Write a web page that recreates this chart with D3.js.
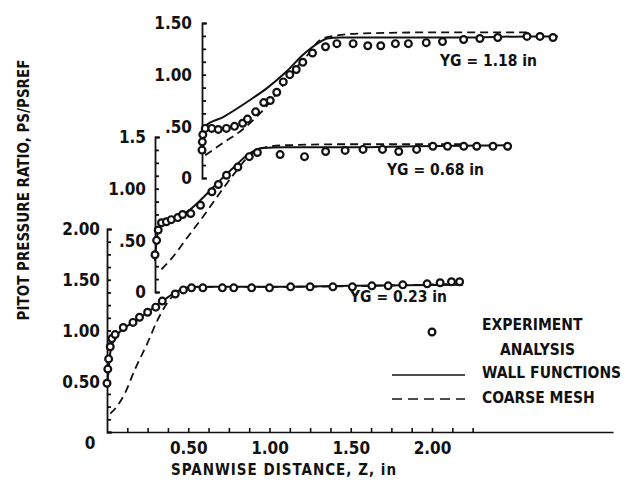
<!DOCTYPE html>
<html>
<head>
<meta charset="utf-8">
<script src="https://cdn.jsdelivr.net/npm/d3@7/dist/d3.min.js"></script>
<style>
  body { margin: 0; background: #fff; }
  text { font-family: "DejaVu Sans Condensed", "DejaVu Sans", sans-serif; font-weight: bold; fill: #111; }
</style>
</head>
<body>
<svg id="chart" width="626" height="482"></svg>
<script>
// ---- data (z in inches, PS/PSREF) ----

// YG = 1.18 in
let expZ118 = [0, 0.002, 0.005, 0.02, 0.06, 0.1, 0.15, 0.2, 0.25, 0.28, 0.33, 0.38, 0.42, 0.46, 0.5, 0.54, 0.58, 0.62, 0.68, 0.76, 0.83, 0.93, 1.02, 1.1, 1.19, 1.27, 1.38, 1.48, 1.61, 1.71, 1.82, 2.0, 2.08, 2.16];
let expV118 = [0.27, 0.35, 0.42, 0.48, 0.48, 0.47, 0.48, 0.5, 0.53, 0.57, 0.64, 0.73, 0.75, 0.83, 0.93, 1.0, 1.05, 1.12, 1.21, 1.27, 1.3, 1.3, 1.28, 1.28, 1.3, 1.3, 1.31, 1.32, 1.34, 1.35, 1.36, 1.37, 1.37, 1.36];
let wallZ118 = [0, 0.02, 0.13, 0.3, 0.4, 0.52, 0.62, 0.73, 0.77, 0.85, 1.2, 1.6, 2.0, 2.19];
let wallV118 = [0.42, 0.5, 0.59, 0.76, 0.87, 1.03, 1.19, 1.32, 1.35, 1.36, 1.36, 1.36, 1.37, 1.37];
let coarseZ118 = [0.02, 0.13, 0.25, 0.36, 0.46, 0.56, 0.65, 0.73, 0.83, 1.0, 1.5, 2.0];
let coarseV118 = [0.22, 0.34, 0.47, 0.63, 0.82, 1.03, 1.19, 1.34, 1.38, 1.4, 1.41, 1.41];

// YG = 0.68 in
let expZ068 = [0, 0.01, 0.02, 0.04, 0.07, 0.1, 0.14, 0.17, 0.22, 0.28, 0.35, 0.39, 0.44, 0.51, 0.58, 0.63, 0.77, 0.92, 1.05, 1.17, 1.28, 1.4, 1.5, 1.61, 1.71, 1.8, 1.9, 1.98, 2.08, 2.17];
let expV068 = [0.36, 0.5, 0.6, 0.67, 0.68, 0.7, 0.72, 0.75, 0.76, 0.84, 0.97, 1.04, 1.13, 1.21, 1.31, 1.35, 1.33, 1.31, 1.36, 1.37, 1.38, 1.38, 1.36, 1.38, 1.41, 1.41, 1.41, 1.41, 1.41, 1.41];
let wallZ068 = [0, 0.01, 0.03, 0.06, 0.12, 0.2, 0.3, 0.4, 0.5, 0.58, 0.65, 0.8, 1.2, 1.6, 2.19];
let wallV068 = [0.3, 0.5, 0.64, 0.68, 0.72, 0.78, 0.92, 1.08, 1.23, 1.34, 1.39, 1.4, 1.4, 1.41, 1.42];
let coarseZ068 = [0.04, 0.1, 0.2, 0.31, 0.4, 0.5, 0.58, 0.65, 0.8, 1.2, 1.6, 1.9];
let coarseV068 = [0.22, 0.32, 0.53, 0.76, 0.96, 1.17, 1.32, 1.39, 1.42, 1.43, 1.43, 1.43];

// YG = 0.23 in
let expZ023 = [0, 0.005, 0.01, 0.02, 0.03, 0.05, 0.1, 0.16, 0.2, 0.25, 0.3, 0.34, 0.42, 0.47, 0.52, 0.59, 0.71, 0.78, 0.89, 1.0, 1.13, 1.25, 1.39, 1.51, 1.63, 1.73, 1.82, 1.97, 2.05, 2.12, 2.17];
let expV023 = [0.48, 0.62, 0.72, 0.84, 0.92, 0.96, 1.03, 1.08, 1.13, 1.18, 1.23, 1.29, 1.36, 1.4, 1.42, 1.42, 1.42, 1.42, 1.42, 1.42, 1.43, 1.43, 1.43, 1.43, 1.44, 1.44, 1.45, 1.46, 1.47, 1.48, 1.48];
let wallZ023 = [0, 0.01, 0.02, 0.04, 0.08, 0.15, 0.25, 0.35, 0.45, 0.52, 0.6, 1.0, 1.5, 2.19];
let wallV023 = [0.45, 0.62, 0.78, 0.9, 0.99, 1.07, 1.18, 1.3, 1.4, 1.43, 1.43, 1.43, 1.44, 1.45];
let coarseZ023 = [0.02, 0.06, 0.11, 0.17, 0.25, 0.31, 0.4, 0.47, 0.55, 1.0, 2.19];
let coarseV023 = [0.18, 0.25, 0.38, 0.61, 0.88, 1.1, 1.33, 1.41, 1.43, 1.43, 1.46];

// tick labels
let yTicks118 = [0, 0.5, 1.0, 1.5], yLabels118 = ["0", ".50", "1.00", "1.50"];
let yTicks068 = [0, 0.5, 1.0, 1.5], yLabels068 = ["0", ".50", "1.00", "1.5"];
let yTicks023 = [0.5, 1.0, 1.5, 2.0], yLabels023 = ["0.50", "1.00", "1.50", "2.00"];
let xTicks = [0.5, 1.0, 1.5, 2.0], xLabels = ["0.50", "1.00", "1.50", "2.00"];

// ---- layout ----
let svg = d3.select("#chart");
let pxPerIn = 162.5;

let panels = [
  { name: "YG = 1.18 in", x0: 202, yBase: 178, yTop: 23, vMax: 1.5, ticks: yTicks118, labels: yLabels118,
    ez: expZ118, ev: expV118, wz: wallZ118, wv: wallV118, cz: coarseZ118, cv: coarseV118, lx: 440, ly: 61, labRight: 192 },
  { name: "YG = 0.68 in", x0: 155, yBase: 292, yTop: 137, vMax: 1.5, ticks: yTicks068, labels: yLabels068,
    ez: expZ068, ev: expV068, wz: wallZ068, wv: wallV068, cz: coarseZ068, cv: coarseV068, lx: 387, ly: 170, labRight: 146 },
  { name: "YG = 0.23 in", x0: 107, yBase: 432, yTop: 229, vMax: 2.0, ticks: yTicks023, labels: yLabels023,
    ez: expZ023, ev: expV023, wz: wallZ023, wv: wallV023, cz: coarseZ023, cv: coarseV023, lx: 350, ly: 297, labRight: 100 }
];

panels.forEach(function(p) {
  let x = d3.scaleLinear().domain([0, 1]).range([p.x0, p.x0 + pxPerIn]);
  let y = d3.scaleLinear().domain([0, p.vMax]).range([p.yBase, p.yTop]);
  let g = svg.append("g");

  // y axis: bracket with inward minor ticks
  let yAxis = d3.axisRight(y)
    .tickValues(d3.range(0, p.vMax + 0.001, 0.125))
    .tickSizeInner(4)
    .tickSizeOuter(5)
    .tickFormat("");
  let ya = g.append("g").attr("transform", "translate(" + p.x0 + ",0)").call(yAxis);
  ya.selectAll("path, line").attr("stroke", "#111").attr("stroke-width", 1.8);

  // y tick labels
  g.selectAll(".ylab")
    .data(p.ticks)
    .enter()
    .append("text")
    .attr("x", p.labRight)
    .attr("y", function(d) { return y(d); })
    .attr("dy", "0.38em")
    .attr("text-anchor", "end")
    .style("font-size", "17px")
    .text(function(d, i) { return p.labels[i]; });

  let line = d3.line()
    .x(function(d) { return x(d[0]); })
    .y(function(d) { return y(d[1]); })
    .curve(d3.curveMonotoneX);

  // coarse mesh (dashed)
  g.append("path")
    .datum(d3.zip(p.cz, p.cv))
    .attr("fill", "none")
    .attr("stroke", "#111")
    .attr("stroke-width", 1.8)
    .attr("stroke-dasharray", "8,5")
    .attr("d", line);

  // wall functions (solid)
  g.append("path")
    .datum(d3.zip(p.wz, p.wv))
    .attr("fill", "none")
    .attr("stroke", "#111")
    .attr("stroke-width", 2)
    .attr("d", line);

  // experiment circles
  g.selectAll(".pt")
    .data(d3.zip(p.ez, p.ev))
    .enter()
    .append("circle")
    .attr("cx", function(d) { return x(d[0]); })
    .attr("cy", function(d) { return y(d[1]); })
    .attr("r", 3.4)
    .attr("fill", "#fff")
    .attr("stroke", "#111")
    .attr("stroke-width", 2.2);

  g.append("text")
    .attr("x", p.lx)
    .attr("y", p.ly)
    .attr("dy", "0.35em")
    .style("font-size", "15.5px")
    .text(p.name);

  // x axis only on the lowest panel
  if (p.name === "YG = 0.23 in") {
    let xExt = d3.scaleLinear().domain([0, 3.114]).range([p.x0, p.x0 + 3.114 * pxPerIn]);
    let xAxis = d3.axisBottom(xExt)
      .tickValues(d3.range(0.125, 2.26, 0.125))
      .tickSizeInner(-4)
      .tickSizeOuter(0)
      .tickPadding(10)
      .tickFormat(function(d) {
        let i = xTicks.findIndex(function(t) { return Math.abs(t - d) < 1e-6; });
        return i >= 0 ? xLabels[i] : "";
      });
    let xa = g.append("g").attr("transform", "translate(0," + p.yBase + ")").call(xAxis);
    xa.selectAll("path, line").attr("stroke", "#111").attr("stroke-width", 1.6);
    xa.selectAll("text")
      .attr("fill", "#111")
      .style("font-family", "DejaVu Sans Condensed, DejaVu Sans, sans-serif")
      .style("font-weight", "bold")
      .style("font-size", "17px");

    // shared zero
    g.append("text")
      .attr("x", 90)
      .attr("y", 443)
      .attr("dy", "0.35em")
      .attr("text-anchor", "middle")
      .style("font-size", "17px")
      .text("0");
  }
});

// axis titles
svg.append("text")
  .attr("x", 284)
  .attr("y", 470)
  .attr("dy", "0.35em")
  .attr("text-anchor", "middle")
  .style("font-size", "15px")
  .style("letter-spacing", "1px")
  .text("SPANWISE DISTANCE, Z, in");

svg.append("text")
  .attr("transform", "translate(24,190) rotate(-90)")
  .attr("dy", "0.35em")
  .attr("text-anchor", "middle")
  .style("font-size", "15px")
  .text("PITOT PRESSURE RATIO, PS/PSREF");

// legend
let legend = svg.append("g");
legend.append("circle")
  .attr("cx", 432).attr("cy", 332).attr("r", 3.4)
  .attr("fill", "#fff").attr("stroke", "#111").attr("stroke-width", 2.2);
legend.append("text").attr("x", 482).attr("y", 325).attr("dy", "0.35em").style("font-size", "15.5px").text("EXPERIMENT");
legend.append("text").attr("x", 500).attr("y", 350).attr("dy", "0.35em").style("font-size", "15.5px").text("ANALYSIS");
legend.append("line").attr("x1", 392).attr("x2", 465).attr("y1", 375).attr("y2", 375)
  .attr("stroke", "#111").attr("stroke-width", 1.6);
legend.append("text").attr("x", 482).attr("y", 373).attr("dy", "0.35em").style("font-size", "15.5px").text("WALL FUNCTIONS");
legend.append("line").attr("x1", 392).attr("x2", 465).attr("y1", 399).attr("y2", 399)
  .attr("stroke", "#111").attr("stroke-width", 1.6).attr("stroke-dasharray", "10,6");
legend.append("text").attr("x", 482).attr("y", 398).attr("dy", "0.35em").style("font-size", "15.5px").text("COARSE MESH");
</script>
</body>
</html>
